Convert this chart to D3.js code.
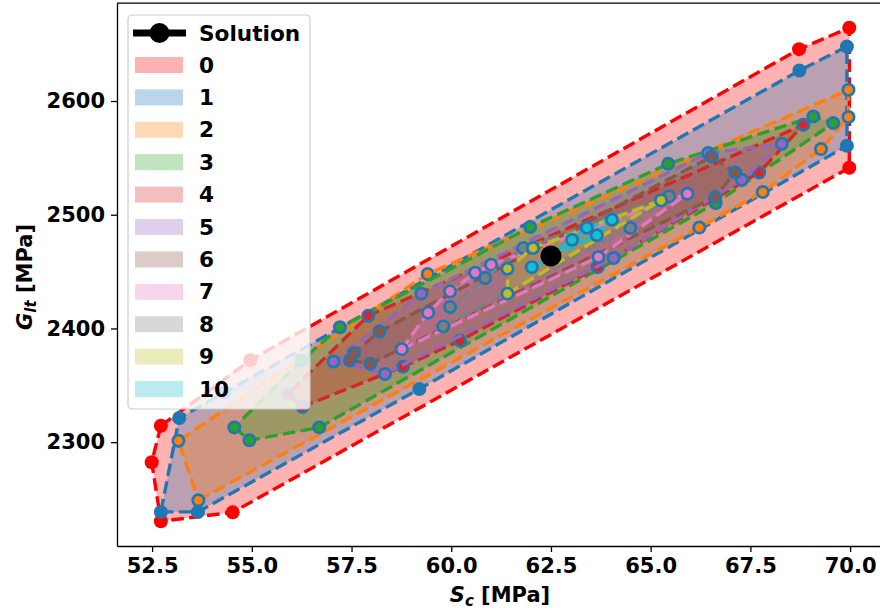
<!DOCTYPE html>
<html>
<head>
<meta charset="utf-8">
<script src="https://cdn.jsdelivr.net/npm/d3@7"></script>
<style>
  html, body { margin: 0; padding: 0; background: #fff; }
  svg { display: block; }
  text { font-family: "DejaVu Sans", sans-serif; font-weight: bold; }
</style>
</head>
<body>
<svg id="chart" width="880" height="615"></svg>
<script>
// ---- data: hull vertices per level, [Sc (MPa), Glt (MPa)] ----
const level0 = [[52.72,2314.5],[52.49,2282.3],[52.72,2230.4],[54.52,2238.3],[69.98,2541.3],[69.98,2664.4],[68.72,2645.6],[54.96,2372.0]];
const level1 = [[52.72,2238.7],[53.65,2238.7],[59.20,2346.8],[69.92,2560.6],[69.92,2647.9],[68.73,2626.8],[54.31,2343.5],[53.18,2321.3]];
const level2 = [[53.66,2248.9],[66.22,2488.8],[67.81,2520.0],[69.27,2557.7],[69.96,2585.9],[69.96,2609.9],[59.41,2447.9],[53.16,2301.3]];
const level3 = [[54.56,2313.0],[54.94,2301.6],[56.69,2313.0],[66.63,2510.3],[69.58,2580.6],[69.08,2586.4],[65.44,2544.8],[61.98,2489.2],[57.21,2401.1],[56.24,2371.7]];
const level4 = [[55.90,2342.4],[56.27,2331.2],[58.79,2366.4],[60.22,2389.3],[63.67,2453.9],[67.72,2537.2],[68.83,2579.1],[57.92,2411.2]];
const level5 = [[57.05,2371.0],[58.34,2360.0],[64.07,2461.9],[67.29,2530.8],[68.29,2562.4],[66.44,2554.2],[59.25,2430.6]];
const level6 = [[57.46,2371.9],[57.97,2369.0],[66.62,2515.6],[67.12,2537.2],[66.53,2551.2],[58.20,2397.4],[57.56,2378.4]];
const level7 = [[58.76,2381.8],[63.69,2462.8],[65.92,2518.5],[61.00,2456.0],[60.60,2449.0],[59.97,2432.6],[59.42,2413.9]];
const level8 = [[59.80,2401.8],[64.49,2488.3],[65.46,2516.1],[61.81,2470.7],[60.85,2444.4],[59.97,2418.9]];
const level9 = [[61.41,2430.6],[65.26,2512.6],[62.05,2470.7],[61.41,2452.5]];
const level10 = [[62.02,2453.9],[63.65,2482.0],[64.03,2495.6],[63.40,2488.6],[63.03,2478.0]];
const solution = [62.5, 2463.7];

const levels = [level0, level1, level2, level3, level4, level5, level6, level7, level8, level9, level10];
const levelLabels = ["0","1","2","3","4","5","6","7","8","9","10"];
const xTicks = [52.5, 55.0, 57.5, 60.0, 62.5, 65.0, 67.5, 70.0];
const yTicks = [2300, 2400, 2500, 2600];
const colors = ["#ff0000","#1f77b4","#ff7f0e","#2ca02c","#d62728","#9467bd","#8c564b","#e377c2","#7f7f7f","#bcbd22","#17becf"];

// ---- layout ----
const svg = d3.select("#chart");
const x = d3.scaleLinear().domain([51.62, 70.85]).range([117, 884]);
const y = d3.scaleLinear().domain([2208.7, 2686.1]).range([546, 3.1]);

const line = d3.line().x(d => x(d[0])).y(d => y(d[1]));

// fills first (patches sit below lines)
const fills = svg.append("g");
levels.forEach((pts, i) => {
  fills.append("path").attr("d", line(pts) + "Z")
    .attr("fill", colors[i]).attr("fill-opacity", 0.3).attr("stroke", "none");
});

// dashed outlines with markers
const lines = svg.append("g");
levels.forEach((pts, i) => {
  const c = colors[i];
  const closed = pts.concat([pts[0]]);
  const g = lines.append("g");
  g.append("path").attr("d", line(closed))
    .attr("fill", "none").attr("stroke", c).attr("stroke-width", 3.4)
    .attr("stroke-dasharray", "12.6,5.4");
  if (i >= 2) {
    g.selectAll("circle.ring").data(pts).join("circle").attr("class","ring")
      .attr("cx", d => x(d[0])).attr("cy", d => y(d[1])).attr("r", 7)
      .attr("fill", colors[1]);
    g.selectAll("circle.dot").data(pts).join("circle").attr("class","dot")
      .attr("cx", d => x(d[0])).attr("cy", d => y(d[1])).attr("r", 4.3)
      .attr("fill", c);
  } else {
    g.selectAll("circle.dot").data(pts).join("circle").attr("class","dot")
      .attr("cx", d => x(d[0])).attr("cy", d => y(d[1])).attr("r", 7)
      .attr("fill", c);
  }
});

// solution point
svg.append("circle").attr("cx", x(solution[0])).attr("cy", y(solution[1]))
  .attr("r", 10.5).attr("fill", "#000");

// ---- axes ----
const xAxis = svg.append("g").attr("transform", "translate(0,546)")
  .call(d3.axisBottom(x).tickValues(xTicks).tickFormat(d3.format(".1f")).tickSize(6).tickSizeOuter(0).tickPadding(6));
const yAxis = svg.append("g").attr("transform", "translate(117,0)")
  .call(d3.axisLeft(y).tickValues(yTicks).tickFormat(d3.format("d")).tickSize(6).tickSizeOuter(0).tickPadding(6));
[xAxis, yAxis].forEach(a => {
  a.selectAll("text").attr("font-size", 21).attr("font-family", "DejaVu Sans").attr("font-weight", "bold").attr("fill", "#000");
  a.selectAll("line").attr("stroke", "#000").attr("stroke-width", 1.3);
  a.select(".domain").attr("stroke", "#000").attr("stroke-width", 1.3);
});
// top / right spines
svg.append("line").attr("x1", 117).attr("x2", 884).attr("y1", 3.1).attr("y2", 3.1)
  .attr("stroke", "#000").attr("stroke-width", 1.3);
svg.append("line").attr("x1", 884).attr("x2", 884).attr("y1", 3.1).attr("y2", 546)
  .attr("stroke", "#000").attr("stroke-width", 1.3);

// axis labels
const xl = svg.append("text").attr("x", 500).attr("y", 602).attr("text-anchor", "middle").attr("font-size", 21);
xl.append("tspan").attr("font-style", "italic").text("S");
xl.append("tspan").attr("font-style", "italic").attr("font-size", 15).attr("dy", 4).text("c");
xl.append("tspan").attr("dy", -4).text(" [MPa]");

const yl = svg.append("text").attr("transform", "translate(32,277) rotate(-90)").attr("text-anchor", "middle").attr("font-size", 21);
yl.append("tspan").attr("font-style", "italic").text("G");
yl.append("tspan").attr("font-style", "italic").attr("font-size", 15).attr("dy", 4).text("lt");
yl.append("tspan").attr("dy", -4).text(" [MPa]");

// ---- legend ----
const lg = svg.append("g");
lg.append("rect").attr("x", 128).attr("y", 15).attr("width", 182).attr("height", 394).attr("rx", 4)
  .attr("fill", "#fff").attr("fill-opacity", 0.8).attr("stroke", "#cccccc").attr("stroke-width", 1.2);
lg.append("line").attr("x1", 133).attr("x2", 186).attr("y1", 33).attr("y2", 33).attr("stroke", "#000").attr("stroke-width", 7);
lg.append("circle").attr("cx", 159.5).attr("cy", 33).attr("r", 10).attr("fill", "#000");
lg.append("text").attr("x", 199).attr("y", 40.5).attr("font-size", 21.6).text("Solution");
levelLabels.forEach((lab, i) => {
  const cy = 65 + i * 32.4;
  lg.append("rect").attr("x", 135).attr("y", cy - 8).attr("width", 48).attr("height", 16)
    .attr("fill", colors[i]).attr("fill-opacity", 0.3);
  lg.append("text").attr("x", 199).attr("y", cy + 7.5).attr("font-size", 21.6).text(lab);
});
</script>
</body>
</html>
